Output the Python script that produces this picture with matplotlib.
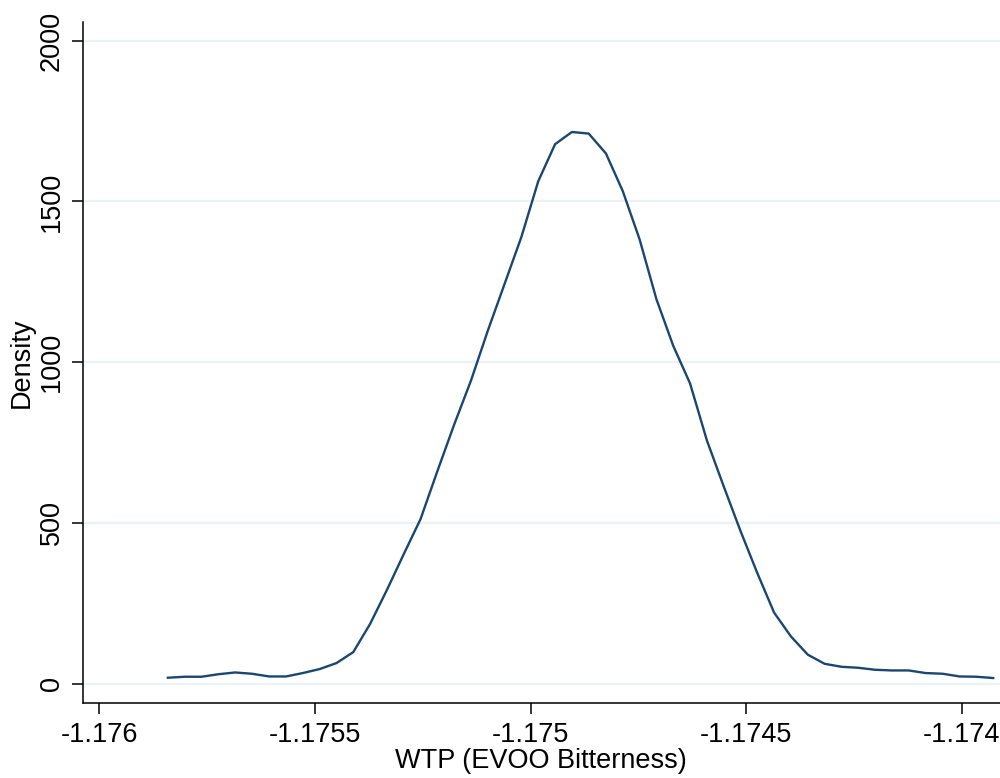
#!/usr/bin/env python3
"""Kernel density of WTP (EVOO Bitterness), Stata-like look."""

import matplotlib

matplotlib.use("Agg")
import matplotlib.pyplot as plt

# kdensity evaluation grid
wtp_grid = [
    -1.175841, -1.175802, -1.175763, -1.175724, -1.175685,
    -1.175646, -1.175606, -1.175567, -1.175528, -1.175489,
    -1.175450, -1.175411, -1.175372, -1.175333, -1.175294,
    -1.175255, -1.175216, -1.175177, -1.175138, -1.175099,
    -1.175060, -1.175021, -1.174982, -1.174943, -1.174904,
    -1.174865, -1.174825, -1.174786, -1.174747, -1.174708,
    -1.174669, -1.174630, -1.174591, -1.174552, -1.174513,
    -1.174474, -1.174435, -1.174396, -1.174357, -1.174318,
    -1.174279, -1.174240, -1.174201, -1.174162, -1.174123,
    -1.174084, -1.174044, -1.174005, -1.173966, -1.173927,
]
density = [
    18.6, 21.7, 21.7, 29.5, 35.0, 31.0, 22.6, 22.6, 33.2, 45.6,
    64.2, 98.3, 186.0, 291.6, 403.0, 512.0, 661.0, 806.0, 943.0, 1098.0,
    1244.0, 1390.0, 1563.0, 1678.0, 1716.0, 1711.0, 1649.0, 1532.0, 1382.0, 1196.0,
    1051.0, 934.0, 757.0, 614.0, 475.0, 344.0, 221.0, 147.0, 90.4, 62.0,
    52.7, 49.6, 43.4, 41.3, 41.3, 33.2, 31.0, 22.6, 21.7, 17.7,
]

x_ticks = [-1.176, -1.1755, -1.175, -1.1745, -1.174]
x_tick_labels = ["-1.176", "-1.1755", "-1.175", "-1.1745", "-1.174"]
y_ticks = [0, 500, 1000, 1500, 2000]

LINE_COLOR = "#1a476f"
GRID_COLOR = "#eaf2f3"
FONT_SIZE = 19.5

plt.rcParams["font.family"] = ["Liberation Sans", "DejaVu Sans"]

fig = plt.figure(figsize=(10, 7.78), dpi=100, facecolor="white")
ax = fig.add_axes([0.0827, 0.0968, 1.0 - 0.0827, 0.9717 - 0.0968])

ax.plot(wtp_grid, density, color=LINE_COLOR, linewidth=1.7, zorder=3)

ax.set_xlim(-1.1760385, -1.1739112)
ax.set_ylim(-59, 2058)

ax.set_xticks(x_ticks)
ax.set_xticklabels(x_tick_labels)
ax.set_yticks(y_ticks)
ax.set_yticklabels([str(v) for v in y_ticks], rotation=90, va="center")

ax.grid(axis="y", color=GRID_COLOR, linewidth=1.6, zorder=0)
ax.set_axisbelow(True)

for side in ("top", "right"):
    ax.spines[side].set_visible(False)
for side in ("left", "bottom"):
    ax.spines[side].set_linewidth(1.1)
    ax.spines[side].set_color("black")

ax.tick_params(axis="both", direction="out", length=8, width=1.1, color="black",
               labelsize=FONT_SIZE)
ax.tick_params(axis="x", pad=6)
ax.tick_params(axis="y", pad=5)

ax.set_xlabel("WTP (EVOO Bitterness)", fontsize=FONT_SIZE, labelpad=0)
ax.set_ylabel("Density", fontsize=FONT_SIZE, labelpad=3)

fig.savefig("out.png", dpi=100, facecolor="white")
plt.close(fig)
